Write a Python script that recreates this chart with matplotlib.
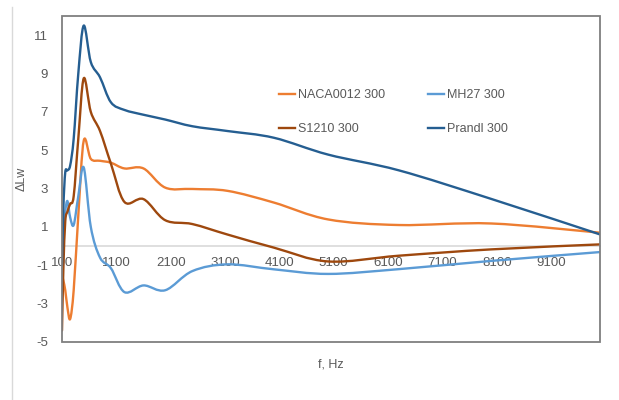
import numpy as np
import matplotlib
matplotlib.use("Agg")
import matplotlib.pyplot as plt
from matplotlib.path import Path
from matplotlib.patches import PathPatch, Rectangle
from matplotlib.lines import Line2D

plt.rcParams["font.family"] = ["Liberation Sans", "DejaVu Sans"]
plt.rcParams["axes.unicode_minus"] = False

freq = [100, 125, 160, 200, 250, 315, 400, 500, 630, 800, 1000, 1250, 1600,
        2000, 2500, 3150, 4000, 5000, 6300, 8000, 10000]
naca0012 = [-1.5, -1.8, -2.3, -3.2, -3.8, -2.3, 1.6, 5.5, 4.55, 4.45, 4.35, 4.05,
            4.05, 3.05, 2.98, 2.88, 2.27, 1.39, 1.1, 1.18, 0.7]
mh27 = [-0.5, 0.5, 1.8, 2.35, 1.5, 1.1, 2.6, 4.1, 1.0, -0.6, -1.15, -2.4, -2.05,
        -2.3, -1.3, -0.95, -1.21, -1.45, -1.2, -0.77, -0.31]
s1210 = [-4.4, -1.2, 1.3, 1.8, 2.2, 2.6, 5.6, 8.75, 7.0, 6.0, 4.3, 2.3, 2.45,
         1.35, 1.15, 0.6, -0.08, -0.8, -0.5, -0.17, 0.09]
prandl = [-1.0, 2.0, 3.85, 3.95, 4.2, 5.6, 9.0, 11.5, 9.6, 8.8, 7.5, 7.1, 6.85,
          6.6, 6.25, 6.0, 5.65, 4.77, 3.95, 2.46, 0.61]

series = [("NACA0012 300", naca0012, "#ED7D31"),
          ("MH27 300", mh27, "#5B9BD5"),
          ("S1210 300", s1210, "#9E480E"),
          ("Prandl 300", prandl, "#255E91")]

text_color = "#595959"


def smooth_line(ax, x, y, color, lw=1.7):
    # Excel-like smoothed line: cubic bezier through the points
    x = np.asarray(x, float)
    y = np.asarray(y, float)
    n = len(x)
    verts = [(x[0], y[0])]
    codes = [Path.MOVETO]
    for i in range(n - 1):
        a = max(i - 1, 0)
        d = min(i + 2, n - 1)
        c1 = (x[i] + (x[i + 1] - x[a]) / 6, y[i] + (y[i + 1] - y[a]) / 6)
        c2 = (x[i + 1] - (x[d] - x[i]) / 6, y[i + 1] - (y[d] - y[i]) / 6)
        verts += [c1, c2, (x[i + 1], y[i + 1])]
        codes += [Path.CURVE4] * 3
    ax.add_patch(PathPatch(Path(verts, codes), fill=False, edgecolor=color,
                           lw=lw, capstyle="round", joinstyle="round", zorder=3))


fig = plt.figure(figsize=(6.19, 4.0), dpi=100)
ax = fig.add_axes([62 / 619, 1 - 342 / 400, 538 / 619, 326 / 400])

for label, vals, color in series:
    smooth_line(ax, freq, vals, color)

ax.set_xlim(100, 10000)
ax.set_ylim(-5, 12)
ax.set_yticks(np.arange(-5, 12, 2))
ax.set_xticks(np.arange(100, 10000, 1000))

for s in ["top", "right", "left"]:
    ax.spines[s].set_visible(False)
ax.spines["bottom"].set_position(("data", 0))
ax.spines["bottom"].set_color("#d9d9d9")
ax.spines["bottom"].set_linewidth(1.2)
ax.spines["bottom"].set_zorder(1)
ax.add_patch(Rectangle((0, 0), 1, 1, transform=ax.transAxes, fill=False,
                       edgecolor="#7f7f7f", lw=1.3, zorder=4, clip_on=False))

ax.tick_params(axis="x", length=0, pad=8, labelsize=9.5, labelcolor=text_color)
ax.tick_params(axis="y", length=0, pad=10, labelsize=9.5, labelcolor=text_color)

ax.set_xlabel("f, Hz", fontsize=9, color=text_color)
ax.xaxis.set_label_coords(0.5, -0.05)
ax.set_ylabel("ΔLw", fontsize=9, color=text_color)
ax.yaxis.set_label_coords(-0.063, 0.5)

handles = {label: Line2D([], [], color=color, lw=1.7) for label, vals, color in series}
order = ["NACA0012 300", "S1210 300", "MH27 300", "Prandl 300"]
ax.legend([handles[k] for k in order], order, ncol=2, frameon=False,
          loc="upper left", bbox_to_anchor=(279 / 619, 1 - 89 / 400),
          bbox_transform=fig.transFigure, borderpad=0, borderaxespad=0,
          fontsize=9, labelcolor=text_color, handlelength=1.3,
          handletextpad=0.25, labelspacing=1.8, columnspacing=3.4)

fig.add_artist(Line2D([12 / 619, 12 / 619], [0, 1 - 7 / 400],
                      transform=fig.transFigure, color="#d9d9d9", lw=1))

fig.savefig("out.png", dpi=100)
